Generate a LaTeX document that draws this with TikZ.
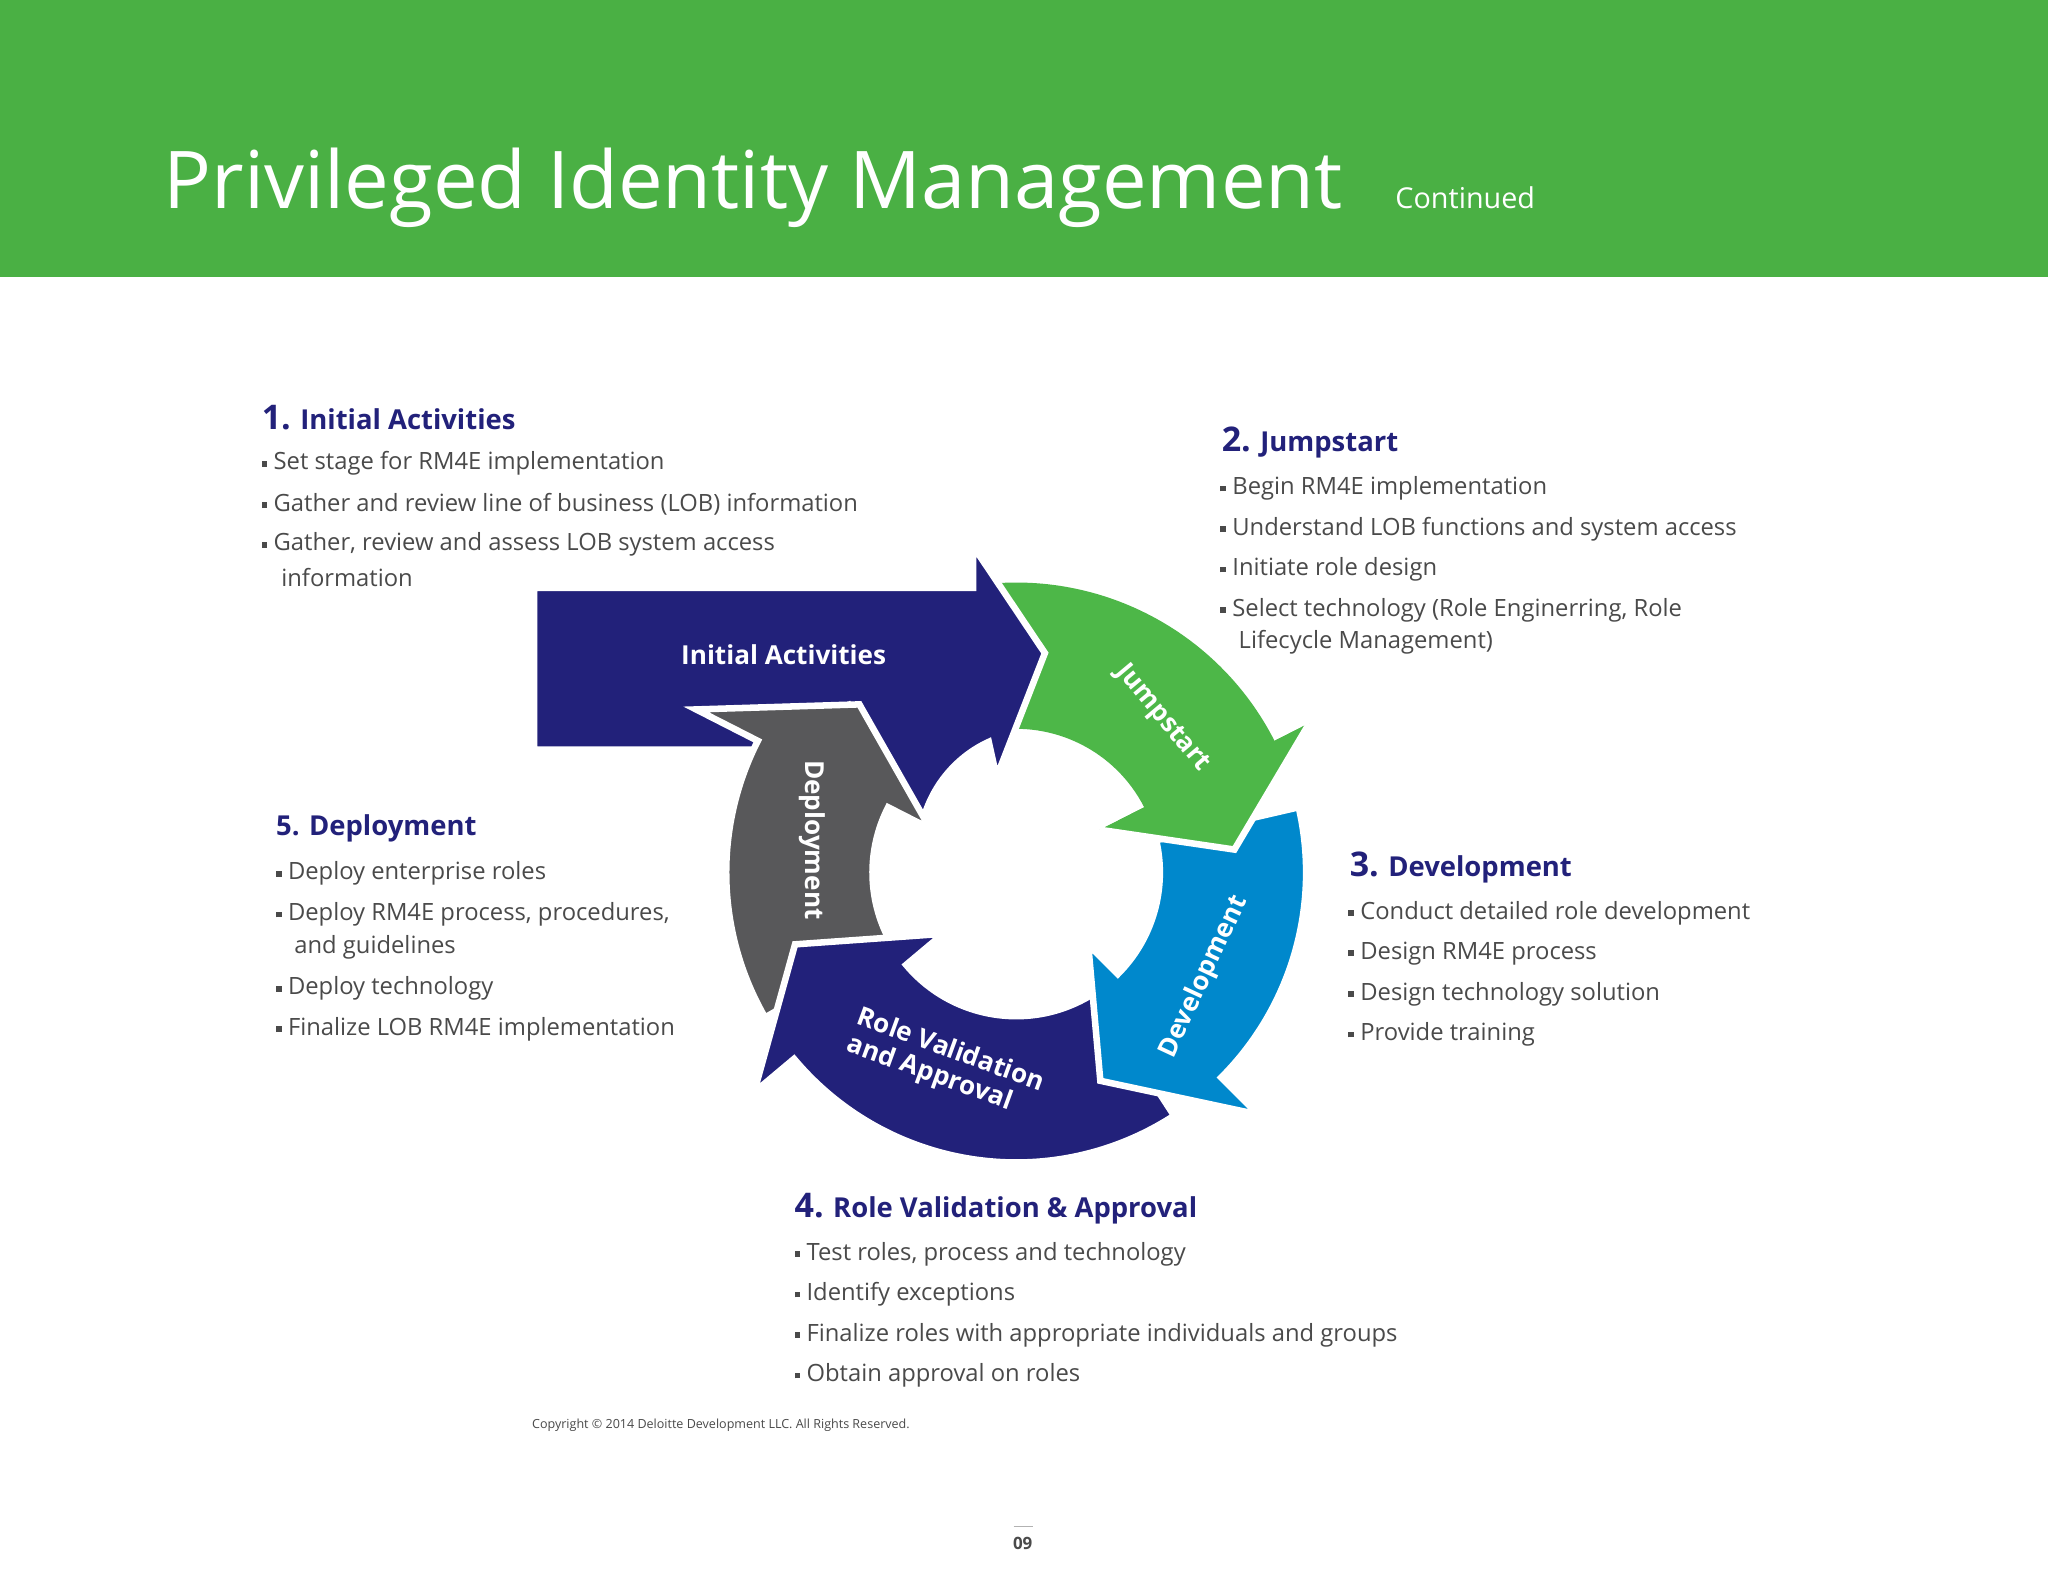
\documentclass[tikz,border=0pt]{standalone}
\usepackage{fontspec}
\setmainfont{Open Sans}
\definecolor{hdr}{HTML}{4AB044}
\definecolor{navy}{HTML}{22217A}
\definecolor{jgreen}{HTML}{4DB748}
\definecolor{dblue}{HTML}{0088CC}
\definecolor{dgray}{HTML}{58585A}
\definecolor{txt}{HTML}{4A4A4A}
\newcommand\bsq{\raisebox{0.25ex}{\rule{2.2pt}{2.2pt}}}
\newcommand\ringarrow[6]{%
 (#1:110) -- (#1:222) arc[start angle=#1,end angle=#2,radius=222] -- (#2:#4) -- (#5:#6) -- (#2:#3) -- (#2:110) arc[start angle=#2,end angle=#1,radius=110] -- cycle}
\begin{document}
\begin{tikzpicture}[x=0.5pt,y=-0.5pt,
  bodyt/.style={anchor=west,inner sep=0pt,text=txt,font=\fontsize{9.1}{11}\selectfont},
  headt/.style={anchor=west,inner sep=0pt,text=navy,font=\fontsize{10.5}{12}\selectfont\bfseries},
  inlab/.style={text=white,font=\fontsize{10}{11}\selectfont\bfseries,align=left},
  seg/.style={draw=white,line width=2.5pt,line join=miter}]
\useasboundingbox (0,0) rectangle (1568,1211);
\fill[white] (0,0) rectangle (1568,1211);
\fill[hdr] (0,0) rectangle (1568,212);
\node[anchor=base west,inner sep=0pt,text=white,font=\fontsize{30.5}{36}\selectfont] (title) at (125,160) {Privileged Identity Management};
\node[anchor=base west,inner sep=0pt,text=white,font=\fontsize{11}{12}\selectfont] (cont) at (1068,160) {Continued};

% cycle
\begin{scope}[shift={(778,668)}]
 \fill[jgreen] \ringarrow{-100}{-27}{72}{252}{-6}{168};
\end{scope}
\draw[seg,fill=navy] (409,450) -- (745,450) -- (745,418) -- (800,500) -- (763,595) -- (757,568)
   .. controls (735,578) and (712,600) .. (705,635) -- (650,540) -- (600,574) -- (409,574) -- cycle;
\begin{scope}[shift={(778,668)}]
 \filldraw[seg,fill=dgray] \ringarrow{150}{207}{74}{275}{227}{176};
 \filldraw[seg,fill=navy] \ringarrow{57}{140}{73}{262}{162}{178};
 \filldraw[seg,fill=dblue] \ringarrow{-13}{45}{78}{262}{68}{172};
 \fill[jgreen] (-27:252) -- (-6:168) -- (-27:72) -- cycle;
 \draw[white,line width=2.5pt,line join=miter] (-27:252) -- (-6:168) -- (-27:72);
\end{scope}
\node[inlab] (lia) at (600,501) {Initial Activities};
\node[inlab,rotate=-50] (ljs) at (890,550) {Jumpstart};
\node[inlab,rotate=65] (ldv) at (922,748) {Development};
\node[inlab,rotate=-90] (ldp) at (622,643) {Deployment};
\node[inlab,rotate=-20] (lrv) at (724,815) {Role Validation\\and Approval};

% text blocks
\node[headt] (h1) at (200,320) {{\fontsize{13}{13}\selectfont 1.} Initial Activities};
\node[bodyt] (a1) at (200,355) {\bsq\ Set stage for RM4E implementation};
\node[bodyt] (a2) at (200,386) {\bsq\ Gather and review line of business (LOB) information};
\node[bodyt] (a3) at (200,417) {\bsq\ Gather, review and assess LOB system access};
\node[bodyt] (a4) at (215,442) {information};

\node[headt] (h2) at (935,339) {{\fontsize{13}{13}\selectfont 2.} Jumpstart};
\node[bodyt] (b1) at (934,374) {\bsq\ Begin RM4E implementation};
\node[bodyt] (b2) at (934,405) {\bsq\ Understand LOB functions and system access};
\node[bodyt] (b3) at (934,436) {\bsq\ Initiate role design};
\node[bodyt] (b4) at (934,467) {\bsq\ Select technology (Role Enginerring, Role};
\node[bodyt] (b5) at (948,492) {Lifecycle Management)};

\node[headt] (h3) at (1033,664) {{\fontsize{13}{13}\selectfont 3.} Development};
\node[bodyt] (c1) at (1032,699) {\bsq\ Conduct detailed role development};
\node[bodyt] (c2) at (1032,730) {\bsq\ Design RM4E process};
\node[bodyt] (c3) at (1032,761) {\bsq\ Design technology solution};
\node[bodyt] (c4) at (1032,792) {\bsq\ Provide training};

\node[headt] (h4) at (608,925) {{\fontsize{13}{13}\selectfont 4.} Role Validation \& Approval};
\node[bodyt] (d1) at (608,960) {\bsq\ Test roles, process and technology};
\node[bodyt] (d2) at (608,991) {\bsq\ Identify exceptions};
\node[bodyt] (d3) at (608,1022) {\bsq\ Finalize roles with appropriate individuals and groups};
\node[bodyt] (d4) at (608,1053) {\bsq\ Obtain approval on roles};

\node[headt] (h5) at (211,634) {5. Deployment};
\node[bodyt] (e1) at (211,669) {\bsq\ Deploy enterprise roles};
\node[bodyt] (e2) at (211,700) {\bsq\ Deploy RM4E process, procedures,};
\node[bodyt] (e3) at (225,725) {and guidelines};
\node[bodyt] (e4) at (211,757) {\bsq\ Deploy technology};
\node[bodyt] (e5) at (211,788) {\bsq\ Finalize LOB RM4E implementation};

\node[anchor=west,inner sep=0pt,text=txt,font=\fontsize{4.8}{5}\selectfont] (copy) at (407,1091) {Copyright © 2014 Deloitte Development LLC. All Rights Reserved.};
\draw[gray!60,line width=0.4pt] (776,1169) -- (791,1169);
\node[inner sep=0pt,text=txt,font=\fontsize{6.5}{7}\selectfont\bfseries] (pg) at (783,1182) {09};
\end{tikzpicture}
\end{document}
